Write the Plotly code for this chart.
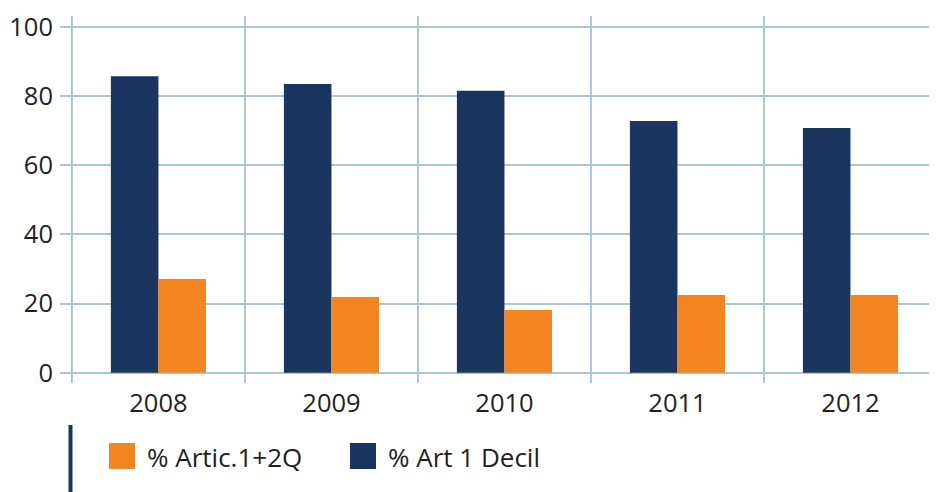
import plotly.graph_objects as go

years = ["2008", "2009", "2010", "2011", "2012"]
decil = [85.8, 83.5, 81.6, 72.8, 70.8]
artic = [27.1, 21.9, 18.1, 22.5, 22.5]
name_decil = "% Art 1 Decil"
name_artic = "% Artic.1+2Q"
y_ticks = [0, 20, 40, 60, 80, 100]

NAVY = "#1A3560"
ORANGE = "#F28522"
TXT = "#231F20"
FONT = "Open Sans"

# page body has an 8px margin: work in window pixels and shift
OFF = 8
W, H = 937 - OFF, 492 - OFF
ml, mr, mt, mb = 60 - OFF, 0, 16 - OFF, 109
pw, ph = W - ml - mr, H - mt - mb

def px_to_paper_x(px):
    return (px - OFF - ml) / pw

def px_to_paper_y(py):
    return (H - mb - (py - OFF)) / ph

x = list(range(len(years)))
fig = go.Figure()
fig.add_trace(go.Bar(x=x, y=decil, name=name_decil, marker_color=NAVY,
                     marker_line_width=0, showlegend=False))
fig.add_trace(go.Bar(x=x, y=artic, name=name_artic, marker_color=ORANGE,
                     marker_line_width=0, showlegend=False))

shapes = []
for i in range(len(years)):
    shapes.append(dict(type="line", xref="x", yref="paper", x0=i - 0.5, x1=i - 0.5,
                       y0=0, y1=1, line=dict(color="#7FA8BC", width=1.3), layer="below"))
# legend decoration line
shapes.append(dict(type="line", xref="paper", yref="paper",
                   x0=px_to_paper_x(70.5), x1=px_to_paper_x(70.5),
                   y0=px_to_paper_y(425), y1=px_to_paper_y(495),
                   line=dict(color=NAVY, width=4)))

leg = [(109, ORANGE, name_artic), (350, NAVY, name_decil)]
annotations = []
for lx, col, nm in leg:
    shapes.append(dict(type="rect", xref="paper", yref="paper",
                       x0=px_to_paper_x(lx), x1=px_to_paper_x(lx + 26),
                       y0=px_to_paper_y(469), y1=px_to_paper_y(443),
                       fillcolor=col, line_width=0))
    annotations.append(dict(xref="paper", yref="paper", x=px_to_paper_x(lx + 36),
                            y=px_to_paper_y(457), text=nm, showarrow=False,
                            xanchor="left", yanchor="middle",
                            font=dict(family=FONT, size=26, color=TXT)))

fig.update_layout(
    width=W, height=H,
    margin=dict(l=ml, r=mr, t=mt, b=mb),
    paper_bgcolor="white", plot_bgcolor="white",
    barmode="group", bargap=0.45, bargroupgap=0,
    font=dict(family=FONT, size=25.5, color=TXT),
    xaxis=dict(range=[-0.569, 4.5], tickvals=x, ticktext=years, showgrid=False,
               zeroline=False, showline=False, ticks="", ticklabelstandoff=2,
               tickfont=dict(family=FONT, size=25.5, color=TXT)),
    yaxis=dict(range=[-3.0, 103.2], tickvals=y_ticks, showgrid=True,
               gridcolor="#A6C8D4", gridwidth=2, zeroline=False, showline=False,
               ticks="", ticklabelstandoff=6,
               tickfont=dict(family=FONT, size=25.5, color=TXT)),
    shapes=shapes, annotations=annotations,
)

fig.write_html("out.html")
